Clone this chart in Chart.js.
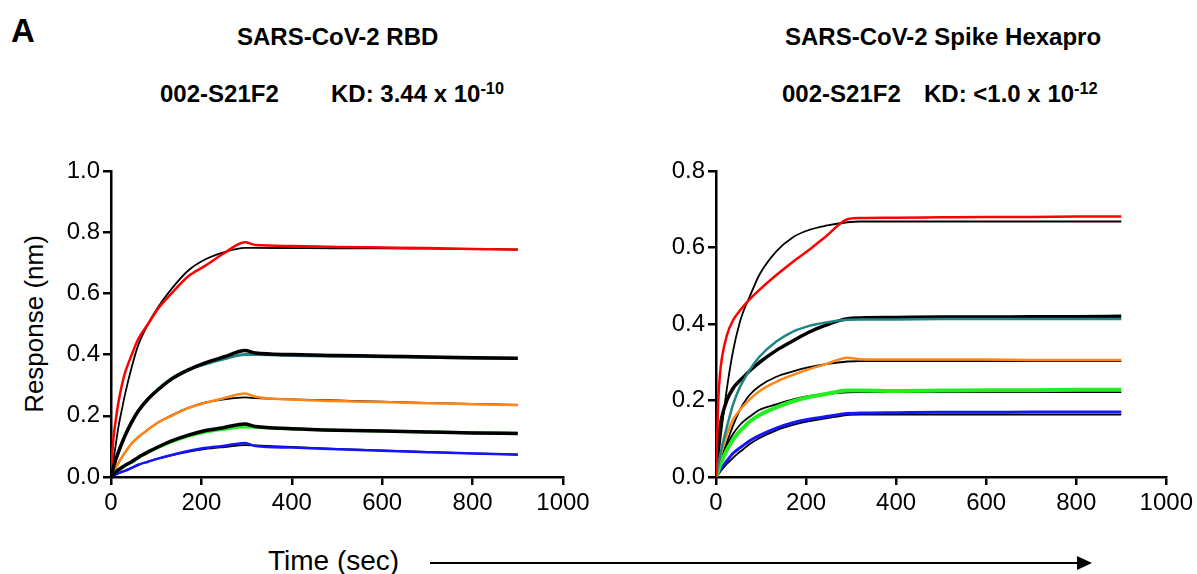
<!DOCTYPE html>
<html>
<head>
<meta charset="utf-8">
<script src="https://cdn.jsdelivr.net/npm/chart.js@4.4.0/dist/chart.umd.min.js"></script>
<style>
  body { margin: 0; background: #fff; width: 1197px; height: 574px; position: relative; overflow: hidden;
         font-family: "Liberation Sans", Arial, sans-serif; color: #000; }
  .txt { position: absolute; white-space: nowrap; line-height: 1; }
  .b { font-weight: bold; }
  sup { font-size: 0.68em; vertical-align: 0; position: relative; top: -0.5em; }
  #c1 { position: absolute; left: 0; top: 150px; }
  #c2 { position: absolute; left: 600px; top: 150px; }
  #arrowLine { position: absolute; left: 430px; top: 562px; width: 648px; height: 2px; background: #000; }
  #arrowHead { position: absolute; left: 1077px; top: 556px; width: 0; height: 0;
               border-left: 15px solid #000; border-top: 7px solid transparent; border-bottom: 7px solid transparent; }
</style>
</head>
<body>
<div class="txt b" style="left:11px;top:14px;font-size:33px;">A</div>

<div class="txt b" style="left:237px;top:25px;font-size:24px;">SARS-CoV-2 RBD</div>
<div class="txt b" style="left:160px;top:82px;font-size:24px;">002-S21F2</div>
<div class="txt b" style="left:331px;top:82px;font-size:24px;">KD: 3.44 x 10<sup>-10</sup></div>

<div class="txt b" style="left:785px;top:25px;font-size:24px;">SARS-CoV-2 Spike Hexapro</div>
<div class="txt b" style="left:782px;top:82px;font-size:24px;">002-S21F2</div>
<div class="txt b" style="left:924px;top:82px;font-size:24px;">KD: &lt;1.0 x 10<sup>-12</sup></div>

<div class="txt" style="left:34px;top:324px;font-size:26px;transform:translate(-50%,-50%) rotate(-90deg);">Response (nm)</div>

<div class="txt" style="left:268px;top:547px;font-size:28px;">Time (sec)</div>
<div id="arrowLine"></div>
<div id="arrowHead"></div>

<canvas id="c1" width="600" height="380"></canvas>
<canvas id="c2" width="597" height="380"></canvas>

<script>
// RBD panel (left) - time points in sec, response in nm
const rbdTime      = [0, 5, 10, 16, 24, 31, 46, 60, 82, 104, 134, 171, 207, 251, 296, 320, 400, 500, 600, 700, 800, 900];
const rbdRed       = [0, 0.12, 0.18, 0.24, 0.30, 0.34, 0.40, 0.45, 0.50, 0.55, 0.60, 0.656, 0.689, 0.732, 0.767, 0.758, 0.755, 0.752, 0.75, 0.748, 0.745, 0.743];
const rbdRedFit    = [0, 0.05, 0.10, 0.16, 0.22, 0.27, 0.36, 0.43, 0.50, 0.555, 0.615, 0.675, 0.71, 0.735, 0.749, 0.749, 0.748, 0.747, 0.747, 0.746, 0.745, 0.744];
const rbdTeal      = [0, 0.03, 0.055, 0.08, 0.11, 0.135, 0.18, 0.215, 0.255, 0.287, 0.322, 0.35, 0.368, 0.386, 0.40, 0.40, 0.397, 0.395, 0.393, 0.391, 0.389, 0.387];
const rbdBlack1    = [0, 0.03, 0.055, 0.08, 0.11, 0.135, 0.18, 0.215, 0.255, 0.285, 0.32, 0.35, 0.372, 0.393, 0.413, 0.405, 0.40, 0.397, 0.395, 0.392, 0.39, 0.388];
const rbdOrange    = [0, 0.015, 0.03, 0.045, 0.065, 0.08, 0.11, 0.13, 0.155, 0.178, 0.20, 0.225, 0.242, 0.258, 0.273, 0.262, 0.253, 0.248, 0.245, 0.241, 0.238, 0.235];
const rbdOrangeFit = [0, 0.014, 0.028, 0.044, 0.064, 0.08, 0.11, 0.13, 0.155, 0.178, 0.202, 0.226, 0.243, 0.254, 0.26, 0.258, 0.254, 0.25, 0.246, 0.242, 0.239, 0.236];
const rbdGreen     = [0, 0.008, 0.015, 0.022, 0.03, 0.037, 0.049, 0.062, 0.08, 0.096, 0.115, 0.133, 0.146, 0.156, 0.163, 0.162, 0.157, 0.153, 0.15, 0.147, 0.145, 0.143];
const rbdBlack2    = [0, 0.008, 0.015, 0.023, 0.031, 0.038, 0.05, 0.064, 0.082, 0.098, 0.118, 0.137, 0.151, 0.162, 0.173, 0.165, 0.158, 0.153, 0.15, 0.147, 0.144, 0.142];
const rbdBlue      = [0, 0.004, 0.008, 0.012, 0.017, 0.02, 0.03, 0.04, 0.05, 0.06, 0.072, 0.085, 0.095, 0.102, 0.111, 0.101, 0.096, 0.091, 0.086, 0.081, 0.077, 0.073];
const rbdBlueFit   = [0, 0.004, 0.008, 0.012, 0.017, 0.021, 0.03, 0.039, 0.05, 0.06, 0.071, 0.082, 0.091, 0.098, 0.104, 0.103, 0.098, 0.092, 0.087, 0.082, 0.077, 0.074];

// Spike Hexapro panel (right)
const hexTime      = [0, 5, 9, 13, 24, 38, 53, 60, 75, 97, 134, 171, 207, 244, 292, 320, 400, 500, 600, 700, 800, 900];
const hexRed       = [0, 0.2, 0.27, 0.31, 0.37, 0.41, 0.435, 0.445, 0.465, 0.49, 0.528, 0.563, 0.594, 0.629, 0.674, 0.677, 0.678, 0.679, 0.68, 0.68, 0.681, 0.681];
const hexRedFit    = [0, 0.05, 0.09, 0.13, 0.23, 0.33, 0.405, 0.43, 0.472, 0.53, 0.59, 0.627, 0.646, 0.657, 0.666, 0.668, 0.668, 0.668, 0.668, 0.668, 0.668, 0.668];
const hexTeal      = [0, 0.03, 0.055, 0.078, 0.13, 0.19, 0.235, 0.25, 0.28, 0.315, 0.354, 0.38, 0.395, 0.404, 0.411, 0.412, 0.412, 0.413, 0.413, 0.413, 0.413, 0.413];
const hexBlack1    = [0, 0.09, 0.13, 0.157, 0.2, 0.232, 0.252, 0.26, 0.278, 0.30, 0.331, 0.356, 0.379, 0.397, 0.414, 0.416, 0.417, 0.418, 0.418, 0.419, 0.419, 0.42];
const hexOrange    = [0, 0.03, 0.05, 0.07, 0.11, 0.15, 0.175, 0.185, 0.203, 0.225, 0.249, 0.267, 0.282, 0.295, 0.312, 0.308, 0.307, 0.307, 0.307, 0.306, 0.306, 0.306];
const hexOrangeFit = [0, 0.02, 0.037, 0.052, 0.09, 0.135, 0.175, 0.19, 0.215, 0.238, 0.262, 0.276, 0.287, 0.295, 0.302, 0.303, 0.303, 0.303, 0.303, 0.303, 0.303, 0.303];
const hexGreen     = [0, 0.017, 0.03, 0.042, 0.07, 0.098, 0.12, 0.128, 0.145, 0.162, 0.182, 0.198, 0.209, 0.217, 0.226, 0.226, 0.225, 0.226, 0.227, 0.227, 0.228, 0.228];
const hexGreenFit  = [0, 0.02, 0.035, 0.049, 0.082, 0.113, 0.136, 0.144, 0.158, 0.176, 0.19, 0.203, 0.212, 0.217, 0.221, 0.222, 0.222, 0.222, 0.222, 0.222, 0.222, 0.222];
const hexBlue      = [0, 0.01, 0.018, 0.025, 0.042, 0.062, 0.076, 0.082, 0.095, 0.109, 0.128, 0.142, 0.151, 0.158, 0.166, 0.167, 0.168, 0.169, 0.169, 0.17, 0.17, 0.17];
const hexBlueFit   = [0, 0.007, 0.013, 0.019, 0.034, 0.05, 0.066, 0.072, 0.086, 0.102, 0.122, 0.136, 0.146, 0.153, 0.162, 0.163, 0.163, 0.163, 0.163, 0.163, 0.163, 0.163];

const xTicks = [0, 200, 400, 600, 800, 1000];

Chart.defaults.font.family = '"Liberation Sans", Arial, sans-serif';
Chart.defaults.color = '#000';

// turn a value list into {x,y} points
function pts(times, vals) {
    return times.map((t, i) => ({ x: t, y: vals[i] }));
}

function line(times, vals, color, width, order) {
    return {
        data: pts(times, vals),
        borderColor: color,
        borderWidth: width,
        order: order,
        pointRadius: 0,
        cubicInterpolationMode: 'monotone',
        fill: false
    };
}

function axisStyle() {
    return {
        grid: { drawOnChartArea: false, drawTicks: true, tickLength: 8, color: '#000', lineWidth: 2.5 },
        border: { display: true, color: '#000', width: 2.5 }
    };
}

function makePanel(id, datasets, yMax, yWidth, rightPad) {
    const ctx = document.getElementById(id).getContext('2d');
    return new Chart(ctx, {
        type: 'line',
        data: { datasets: datasets },
        options: {
            responsive: false,
            animation: false,
            layout: { padding: { top: 21, right: rightPad, left: 0, bottom: 0 } },
            plugins: { legend: { display: false }, tooltip: { enabled: false } },
            scales: {
                x: Object.assign({
                    type: 'linear', min: 0, max: 1000,
                    afterBuildTicks: s => { s.ticks = xTicks.map(v => ({ value: v })); },
                    ticks: { font: { size: 24 }, padding: 4, maxRotation: 0, color: '#000',
                             callback: v => String(v) },
                    afterFit: s => { s.height = 53; }
                }, axisStyle()),
                y: Object.assign({
                    type: 'linear', min: 0, max: yMax,
                    ticks: { stepSize: 0.2, font: { size: 24 }, padding: 3, color: '#000',
                             callback: v => v.toFixed(1) },
                    afterFit: s => { s.width = yWidth; }
                }, axisStyle())
            }
        }
    });
}

makePanel('c1', [
    line(rbdTime, rbdRedFit, '#000', 1.8, 3),
    line(rbdTime, rbdOrangeFit, '#000', 1.8, 3),
    line(rbdTime, rbdBlueFit, '#000', 1.8, 3),
    line(rbdTime, rbdRed, '#ff0000', 2.5, 2),
    line(rbdTime, rbdTeal, '#1f8585', 3, 2),
    line(rbdTime, rbdOrange, '#ff8514', 2.5, 2),
    line(rbdTime, rbdGreen, '#22ee22', 3, 2),
    line(rbdTime, rbdBlue, '#1414ff', 2.5, 2),
    line(rbdTime, rbdBlack1, '#000', 3.5, 1),
    line(rbdTime, rbdBlack2, '#000', 3.5, 1)
], 1.0, 111, 37);

makePanel('c2', [
    line(hexTime, hexRedFit, '#000', 1.8, 3),
    line(hexTime, hexOrangeFit, '#000', 1.8, 3),
    line(hexTime, hexGreenFit, '#000', 1.8, 3),
    line(hexTime, hexBlueFit, '#000', 1.8, 3),
    line(hexTime, hexBlack1, '#000', 3.5, 2),
    line(hexTime, hexRed, '#ff0000', 2.5, 1),
    line(hexTime, hexTeal, '#1f8585', 2.5, 1),
    line(hexTime, hexOrange, '#ff8514', 2.5, 1),
    line(hexTime, hexGreen, '#22ee22', 4, 1),
    line(hexTime, hexBlue, '#1414ff', 3, 1)
], 0.8, 116, 30);
</script>
</body>
</html>
